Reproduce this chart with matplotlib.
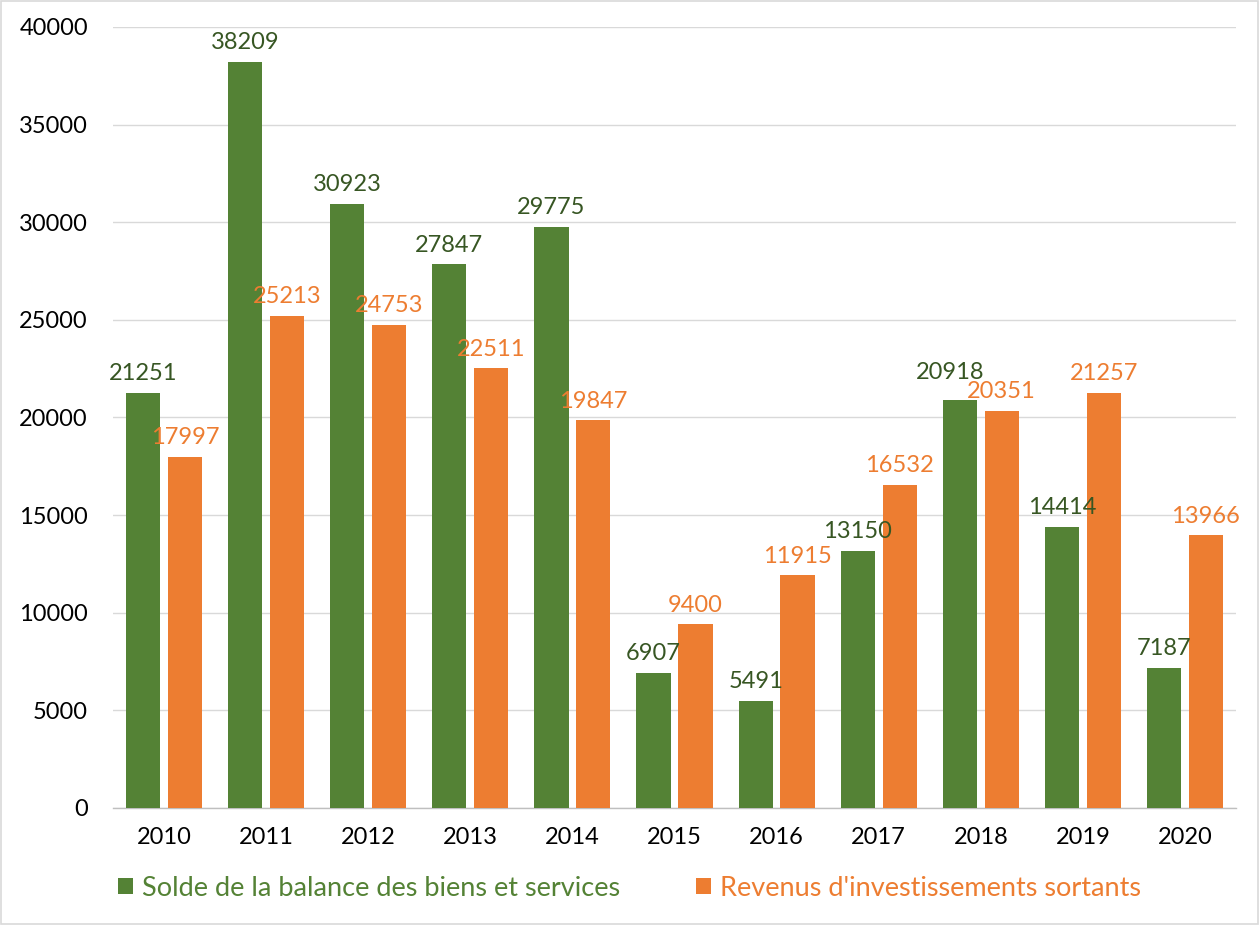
import matplotlib.pyplot as plt
import numpy as np
from matplotlib.patches import Rectangle

years = ["2010", "2011", "2012", "2013", "2014", "2015", "2016", "2017", "2018", "2019", "2020"]
solde = [21251, 38209, 30923, 27847, 29775, 6907, 5491, 13150, 20918, 14414, 7187]
revenus = [17997, 25213, 24753, 22511, 19847, 9400, 11915, 16532, 20351, 21257, 13966]
legend_labels = ["Solde de la balance des biens et services", "Revenus d'investissements sortants"]

green = "#548235"
orange = "#ED7D31"
green_txt = "#375623"

plt.rcParams['font.family'] = ['Lato', 'DejaVu Sans']

fig = plt.figure(figsize=(12.59, 9.25), dpi=100)
ax = fig.add_axes([113 / 1259, 1 - 808 / 925, (1236 - 113) / 1259, (808 - 27) / 925])

x = np.arange(len(years))
w = 0.335
off = 0.205
b1 = ax.bar(x - off, solde, w, color=green, label=legend_labels[0], zorder=3)
b2 = ax.bar(x + off, revenus, w, color=orange, label=legend_labels[1], zorder=3)

for i, v in enumerate(solde):
    # the 2018 label sits a bit left/up in the original to clear its neighbour
    dx, dy = (-0.1, 400) if years[i] == "2018" else (0, 0)
    ax.text(x[i] - off + dx, v + 450 + dy, str(v), ha="center", va="bottom", fontsize=17,
            color=green_txt, zorder=4)
for xi, v in zip(x, revenus):
    ax.text(xi + off, v + 450, str(v), ha="center", va="bottom", fontsize=17, color=orange, zorder=4)

ax.set_xlim(-0.5, len(years) - 0.5)
ax.set_ylim(0, 40000)
ax.set_yticks(range(0, 40001, 5000))
ax.set_xticks(x)
ax.set_xticklabels(years)
ax.tick_params(axis="both", labelsize=17, length=0, colors="black")
ax.tick_params(axis="x", pad=14)
ax.tick_params(axis="y", pad=18)
ax.yaxis.grid(True, color="#D9D9D9", linewidth=1, zorder=0)
for s in ["top", "right", "left"]:
    ax.spines[s].set_visible(False)
ax.spines["bottom"].set_color("#BFBFBF")
ax.spines["bottom"].set_linewidth(1)

leg = fig.legend(handles=[b1, b2], loc="center", bbox_to_anchor=(0.5, 1 - 888 / 925), ncol=2,
                 frameon=False, fontsize=19.5, handlelength=0.55, handleheight=0.55,
                 handletextpad=0.35, columnspacing=2.8)
leg.get_texts()[0].set_color(green)
leg.get_texts()[1].set_color(orange)

fig.patches.append(Rectangle((0.001, 0.001), 0.998, 0.998, transform=fig.transFigure,
                             fill=False, edgecolor="#D9D9D9", linewidth=1.2))

fig.savefig("out.png", dpi=100)
